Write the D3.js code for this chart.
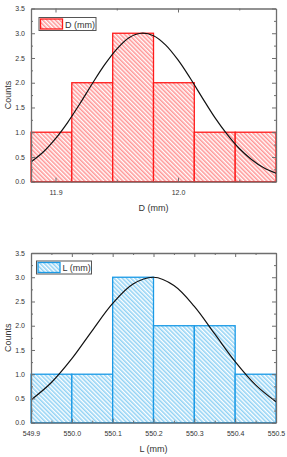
<!DOCTYPE html>
<html>
<head>
<meta charset="utf-8">
<script src="https://cdn.jsdelivr.net/npm/d3@7"></script>
<style>
    body { margin: 0; background: #fff; }
    svg { display: block; }
    text { font-family: "Liberation Sans", Arial, sans-serif; fill: #333; }
</style>
</head>
<body>
<svg id="chart" width="287" height="457"></svg>
<script>
// D (mm) histogram
const dEdges = [11.88, 11.9133, 11.9467, 11.98, 12.0133, 12.0467, 12.08];
const dCounts = [1, 2, 3, 2, 1, 1];
const dCurveX = [11.88, 11.89, 11.90, 11.91, 11.92, 11.93, 11.94, 11.95, 11.96, 11.97, 11.98,
    11.99, 12.00, 12.01, 12.02, 12.03, 12.04, 12.05, 12.06, 12.07, 12.08];
const dCurveY = [0.40, 0.60, 0.87, 1.20, 1.58, 1.98, 2.36, 2.68, 2.91, 3.00, 2.95,
    2.76, 2.46, 2.09, 1.69, 1.30, 0.96, 0.67, 0.45, 0.28, 0.17];
const dTicks = [11.9, 12.0];
const dTickLabels = ["11.9", "12.0"];

// L (mm) histogram
const lEdges = [549.9, 550.0, 550.1, 550.2, 550.3, 550.4, 550.5];
const lCounts = [1, 1, 3, 2, 2, 1];
const lCurveX = [549.90, 549.95, 550.00, 550.05, 550.10, 550.15, 550.20,
    550.25, 550.30, 550.35, 550.40, 550.45, 550.50];
const lCurveY = [0.47, 0.83, 1.32, 1.90, 2.46, 2.86, 3.00,
    2.83, 2.40, 1.83, 1.26, 0.78, 0.43];
const lTicks = [549.9, 550.0, 550.1, 550.2, 550.3, 550.4, 550.5];
const lTickLabels = ["549.9", "550.0", "550.1", "550.2", "550.3", "550.4", "550.5"];

// shared y axis
const yTicks = [0, 0.5, 1.0, 1.5, 2.0, 2.5, 3.0, 3.5];
const yTickLabels = ["0.0", "0.5", "1.0", "1.5", "2.0", "2.5", "3.0", "3.5"];

const svg = d3.select("#chart");
const defs = svg.append("defs");

//hatch pattern, lines going down to the right
function hatch(id, color) {
    const p = defs.append("pattern")
        .attr("id", id)
        .attr("patternUnits", "userSpaceOnUse")
        .attr("width", 3).attr("height", 3)
        .attr("patternTransform", "rotate(-45)");
    p.append("rect").attr("width", 3).attr("height", 3).attr("fill", "#fff");
    p.append("line")
        .attr("x1", 0.8).attr("y1", 0).attr("x2", 0.8).attr("y2", 3)
        .attr("stroke", color).attr("stroke-width", 1.4);
}
hatch("hatchRed", "#ff8c8c");
hatch("hatchBlue", "#86cdf3");

const axisColor = "#6e6e6e";

function drawHist(cfg) {
    const g = svg.append("g");
    const x = d3.scaleLinear().domain(cfg.xDomain).range([cfg.left, cfg.right]);
    const y = d3.scaleLinear().domain([0, 3.5]).range([cfg.bottom, cfg.top]);

    //bars
    const bins = cfg.counts.map((c, i) => ({ x0: cfg.edges[i], x1: cfg.edges[i + 1], c: c }));
    g.selectAll(".bar").data(bins).enter().append("rect")
        .attr("x", d => x(d.x0))
        .attr("y", d => y(d.c))
        .attr("width", d => x(d.x1) - x(d.x0))
        .attr("height", d => y(0) - y(d.c))
        .attr("fill", "url(#" + cfg.pattern + ")")
        .attr("stroke", cfg.stroke)
        .attr("stroke-width", 1.3);

    //fitted curve
    const line = d3.line()
        .x(d => x(d[0]))
        .y(d => y(d[1]))
        .curve(d3.curveCatmullRom);
    g.append("path")
        .datum(cfg.curveX.map((v, i) => [v, cfg.curveY[i]]))
        .attr("d", line)
        .attr("fill", "none")
        .attr("stroke", "#111")
        .attr("stroke-width", 1.2);

    //frame axes, ticks point inward (Origin style)
    const yMinor = d3.range(0.25, 3.5, 0.5);
    const left = g.append("g").attr("transform", "translate(" + cfg.left + ",0)")
        .call(d3.axisLeft(y).tickValues(yTicks).tickFormat((d, i) => yTickLabels[i])
            .tickSizeInner(-4).tickSizeOuter(0).tickPadding(6));
    left.append("g").call(d3.axisLeft(y).tickValues(yMinor).tickFormat("").tickSizeInner(-2).tickSizeOuter(0))
        .select(".domain").remove();
    const right = g.append("g").attr("transform", "translate(" + cfg.right + ",0)")
        .call(d3.axisRight(y).tickValues(yTicks).tickFormat("").tickSizeInner(-4).tickSizeOuter(0));
    right.append("g").call(d3.axisRight(y).tickValues(yMinor).tickFormat("").tickSizeInner(-2).tickSizeOuter(0))
        .select(".domain").remove();

    const bottom = g.append("g").attr("transform", "translate(0," + cfg.bottom + ")")
        .call(d3.axisBottom(x).tickValues(cfg.ticks).tickFormat((d, i) => cfg.tickLabels[i])
            .tickSizeInner(-4).tickSizeOuter(0).tickPadding(8));
    bottom.append("g").call(d3.axisBottom(x).tickValues(cfg.minor).tickFormat("").tickSizeInner(-2).tickSizeOuter(0))
        .select(".domain").remove();
    const top = g.append("g").attr("transform", "translate(0," + cfg.top + ")")
        .call(d3.axisTop(x).tickValues(cfg.ticks).tickFormat("").tickSizeInner(-4).tickSizeOuter(0));
    top.append("g").call(d3.axisTop(x).tickValues(cfg.minor).tickFormat("").tickSizeInner(-2).tickSizeOuter(0))
        .select(".domain").remove();

    g.selectAll(".domain").attr("stroke", axisColor).attr("stroke-width", 1.3);
    g.selectAll(".tick line").attr("stroke", axisColor).attr("stroke-width", 1);
    g.selectAll(".tick text").attr("font-size", 7).attr("fill", "#444")
        .attr("font-family", "'Liberation Sans', Arial, sans-serif");

    //axis titles
    g.append("text")
        .attr("transform", "translate(" + (cfg.left - 20) + "," + ((cfg.top + cfg.bottom) / 2) + ")rotate(-90)")
        .attr("text-anchor", "middle")
        .attr("font-size", 9)
        .text("Counts");
    g.append("text")
        .attr("x", (cfg.left + cfg.right) / 2)
        .attr("y", cfg.bottom + 29)
        .attr("text-anchor", "middle")
        .attr("font-size", 9)
        .text(cfg.title);

    //legend
    const lg = g.append("g").attr("transform", "translate(" + cfg.legend[0] + "," + cfg.legend[1] + ")");
    lg.append("rect").attr("width", cfg.legendW).attr("height", 13)
        .attr("fill", "#fff").attr("stroke", "#555").attr("stroke-width", 1);
    lg.append("rect").attr("x", 1.5).attr("y", 1.5).attr("width", 22).attr("height", 10)
        .attr("fill", "url(#" + cfg.pattern + ")")
        .attr("stroke", cfg.stroke).attr("stroke-width", 1.3);
    lg.append("text").attr("x", 26).attr("y", 10).attr("font-size", 9).text(cfg.title);
}

drawHist({
    edges: dEdges, counts: dCounts, curveX: dCurveX, curveY: dCurveY,
    ticks: dTicks, tickLabels: dTickLabels, minor: [11.95, 12.05],
    xDomain: [11.88, 12.08],
    left: 31, right: 276, top: 8.5, bottom: 181.7,
    pattern: "hatchRed", stroke: "#ff1a1a",
    title: "D (mm)", legend: [39, 17.5], legendW: 57
});

drawHist({
    edges: lEdges, counts: lCounts, curveX: lCurveX, curveY: lCurveY,
    ticks: lTicks, tickLabels: lTickLabels, minor: [549.95, 550.05, 550.15, 550.25, 550.35, 550.45],
    xDomain: [549.9, 550.5],
    left: 31, right: 276, top: 253, bottom: 422.7,
    pattern: "hatchBlue", stroke: "#1a9ae6",
    title: "L (mm)", legend: [36.5, 261], legendW: 55
});
</script>
</body>
</html>
